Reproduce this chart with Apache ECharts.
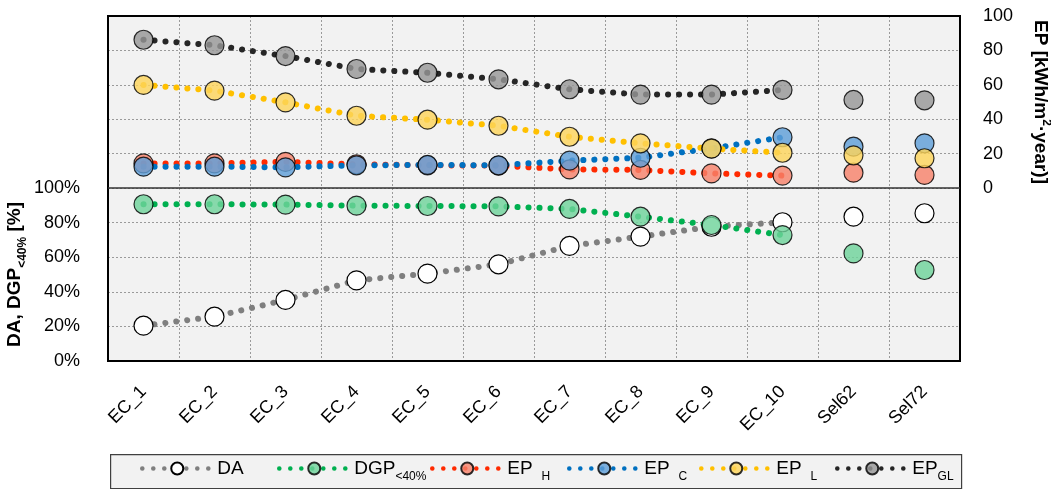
<!DOCTYPE html>
<html>
<head>
<meta charset="utf-8">
<script src="https://cdn.jsdelivr.net/npm/echarts@6/dist/echarts.min.js"></script>
<style>
  html, body { margin: 0; padding: 0; background: #fff; }
  #chart { width: 1051px; height: 489px; }
</style>
</head>
<body>
<div id="chart"></div>
<script>
const categories = ['EC_1', 'EC_2', 'EC_3', 'EC_4', 'EC_5', 'EC_6', 'EC_7', 'EC_8', 'EC_9', 'EC_10', 'Sel62', 'Sel72'];

// bottom panel, %
const daValues = [20.4, 25.6, 35.3, 46.6, 50.5, 55.9, 66.5, 71.9, 77.6, 80.2, 83.4, 85.4];
const dgpValues = [90.6, 90.6, 90.4, 89.8, 89.6, 89.4, 87.9, 83.4, 78.6, 72.8, 62.2, 52.6];

// top panel, kWh/m2 year
const epHValues = [14.3, 14.3, 15.2, 13.8, 13.2, 13.0, 10.8, 10.5, 8.5, 7.2, 8.9, 7.6];
const epCValues = [12.4, 12.4, 12.0, 13.2, 13.4, 13.2, 15.9, 17.6, 23.0, 29.5, 24.0, 26.0];
const epLValues = [59.9, 56.6, 49.8, 42.0, 39.7, 36.2, 29.8, 26.0, 22.9, 20.5, 19.0, 17.3];
const epGLValues = [86.2, 83.0, 76.7, 69.2, 67.0, 63.2, 57.4, 54.3, 54.3, 57.0, 51.2, 51.0];

const epTicks = [0, 20, 40, 60, 80, 100];
const pctTicks = [0, 20, 40, 60, 80, 100];

const FONT = "'Liberation Sans', Arial, sans-serif";
const nLinked = 10;

const seriesDefs = [
    { name: 'DA', values: daValues, panel: 1, line: '#7f7f7f', fill: '#ffffff' },
    { name: 'DGP', values: dgpValues, panel: 1, line: '#00b050', fill: '#6fd39b' },
    { name: 'EP_H', values: epHValues, panel: 0, line: '#ff2a00', fill: '#f7836b' },
    { name: 'EP_C', values: epCValues, panel: 0, line: '#0070c0', fill: '#5f9fd8' },
    { name: 'EP_L', values: epLValues, panel: 0, line: '#ffc000', fill: '#fcd45c' },
    { name: 'EP_GL', values: epGLValues, panel: 0, line: '#262626', fill: '#979797' }
];

const legendText = {
    'DA': '{m|DA}',
    'DGP': '{m|DGP}{s|<40%}',
    'EP_H': '{m|EP}{g|H}',
    'EP_C': '{m|EP}{g|C}',
    'EP_L': '{m|EP}{g|L}',
    'EP_GL': '{m|EP}{s|GL}'
};
const legendLeft = [140, 277, 430, 567, 699, 835];

const dotted = { width: 6, type: [0.1, 10.9], cap: 'round' };

const lineSeries = seriesDefs.map(d => ({
    name: d.name,
    type: 'line',
    xAxisIndex: d.panel,
    yAxisIndex: d.panel,
    data: d.values.slice(0, nLinked),
    symbol: 'circle',
    symbolSize: 19,
    lineStyle: { ...dotted, color: d.line },
    itemStyle: { color: d.fill, opacity: d.name === 'DA' ? 1 : 0.82, borderColor: '#000', borderWidth: 1.2 },
    emphasis: { disabled: true },
    animation: false
}));

const selSeries = seriesDefs.map(d => ({
    name: d.name,
    type: 'scatter',
    xAxisIndex: d.panel,
    yAxisIndex: d.panel,
    data: d.values.slice(nLinked).map((v, i) => [categories[nLinked + i], v]),
    symbol: 'circle',
    symbolSize: 19,
    itemStyle: { color: d.fill, opacity: d.name === 'DA' ? 1 : 0.82, borderColor: '#000', borderWidth: 1.2 },
    emphasis: { disabled: true },
    animation: false
}));

const dottedGrid = { show: true, lineStyle: { color: '#9a9a9a', type: [2, 2], width: 1 } };

const chart = echarts.init(document.getElementById('chart'), null, { renderer: 'canvas' });
chart.setOption({
    animation: false,
    textStyle: { fontFamily: FONT },
    grid: [
        { left: 108, right: 91, top: 16, height: 172, show: true, backgroundColor: '#f2f2f2', borderWidth: 0, containLabel: false, outerBoundsMode: 'none' },
        { left: 108, right: 91, top: 188, height: 173, show: true, backgroundColor: '#f2f2f2', borderWidth: 0, containLabel: false, outerBoundsMode: 'none' }
    ],
    graphic: [
        {
            type: 'rect', left: 110, top: 454, z: -1,
            shape: { width: 851, height: 34 },
            style: { fill: '#f2f2f2', stroke: '#404040', lineWidth: 1.2 }
        },
        {
            type: 'rect', z: 50, silent: true,
            shape: { x: 108, y: 16, width: 852, height: 345 },
            style: { fill: null, stroke: '#000', lineWidth: 2 }
        },
        {
            type: 'line', z: 50, silent: true,
            shape: { x1: 108, y1: 188, x2: 960, y2: 188 },
            style: { stroke: '#333', lineWidth: 1.6 }
        }
    ],
    xAxis: [
        { type: 'category', gridIndex: 0, data: categories, axisLine: { show: false }, axisTick: { show: false }, axisLabel: { show: false }, splitLine: dottedGrid },
        { type: 'category', gridIndex: 1, data: categories, axisLine: { show: false }, axisTick: { show: false }, splitLine: dottedGrid,
          axisLabel: { rotate: 45, margin: 28, fontSize: 18, color: '#000', fontFamily: FONT } }
    ],
    yAxis: [
        { type: 'value', gridIndex: 0, position: 'right', min: epTicks[0], max: epTicks[epTicks.length - 1], interval: 20,
          axisLine: { show: false }, axisTick: { show: false }, splitLine: dottedGrid,
          axisLabel: { margin: 23, fontSize: 18, color: '#000', fontFamily: FONT },
          name: '{b|EP [kWh/m}{p|2}{b|·year)]}', nameLocation: 'middle', nameGap: 68, nameRotate: -90,
          nameTextStyle: { rich: {
              b: { fontSize: 19, fontWeight: 'bold', color: '#000', fontFamily: FONT, lineHeight: 24, verticalAlign: 'middle' },
              p: { fontSize: 12, fontWeight: 'bold', color: '#000', fontFamily: FONT, lineHeight: 24, verticalAlign: 'top' }
          } } },
        { type: 'value', gridIndex: 1, min: pctTicks[0], max: pctTicks[pctTicks.length - 1], interval: 20,
          axisLine: { show: false }, axisTick: { show: false }, splitLine: dottedGrid,
          axisLabel: { margin: 28, fontSize: 18, color: '#000', fontFamily: FONT, formatter: '{value}%' },
          name: '{b|DA, DGP}{s|<40%}{b| [%]}', nameLocation: 'middle', nameGap: 79, nameRotate: 90, nameMoveOverlap: false,
          nameTextStyle: { rich: {
              b: { fontSize: 19, fontWeight: 'bold', color: '#000', fontFamily: FONT, lineHeight: 28, verticalAlign: 'middle' },
              s: { fontSize: 12, fontWeight: 'bold', color: '#000', fontFamily: FONT, lineHeight: 28, verticalAlign: 'bottom' }
          } } }
    ],
    legend: seriesDefs.map((d, i) => ({
        data: [d.name],
        left: legendLeft[i],
        top: 459,
        padding: 0,
        itemWidth: 70,
        itemHeight: 15,
        itemGap: 0,
        selectedMode: false,
        lineStyle: { width: 4.5, cap: 'round' },
        formatter: n => legendText[n],
        textStyle: { rich: {
            m: { fontSize: 19, color: '#000', fontFamily: FONT, lineHeight: 28, verticalAlign: 'middle' },
            s: { fontSize: 12, color: '#000', fontFamily: FONT, lineHeight: 28, verticalAlign: 'bottom' },
            g: { fontSize: 12, color: '#000', fontFamily: FONT, lineHeight: 28, verticalAlign: 'bottom', padding: [0, 0, 0, 9] }
        } }
    })),
    series: [...lineSeries, ...selSeries]
});
</script>
</body>
</html>
